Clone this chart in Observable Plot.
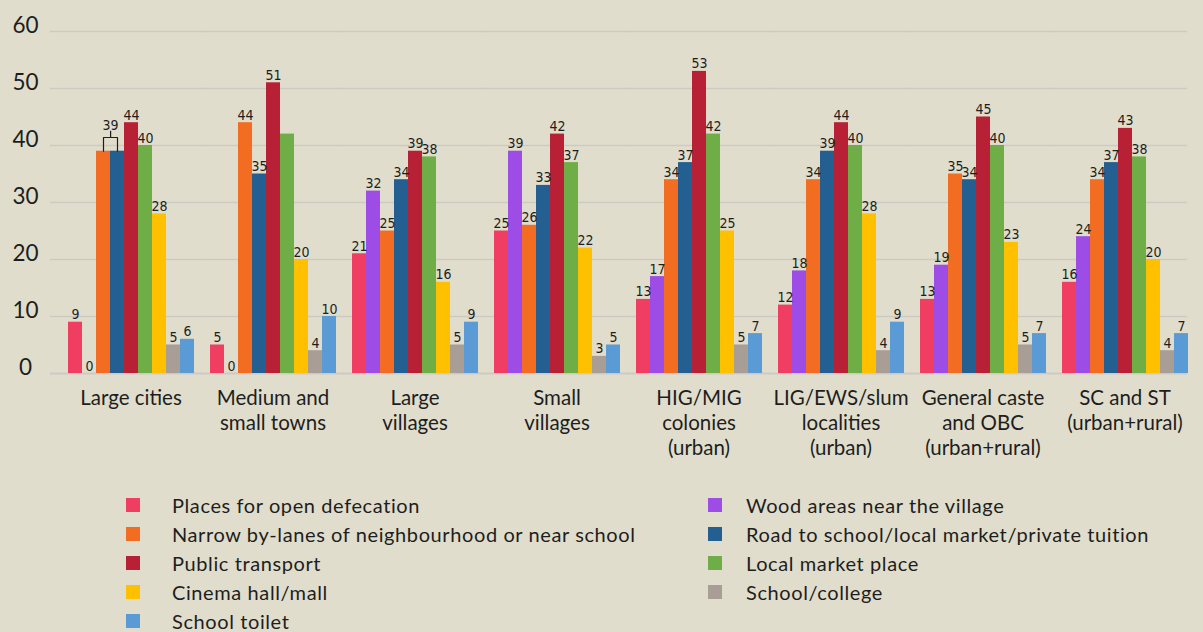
<!DOCTYPE html>
<html>
<head>
<meta charset="utf-8">
<script src="https://cdn.jsdelivr.net/npm/d3@7"></script>
<script src="https://cdn.jsdelivr.net/npm/@observablehq/plot@0.6"></script>
<style>
  html, body { margin: 0; padding: 0; background: #e0ddcc; }
  #chart { width: 1203px; height: 632px; overflow: hidden; position: relative; }
  #legend {
    display: grid;
    grid-template-columns: 582px 470px;
    grid-auto-rows: 29.2px;
    padding-left: 126px;
    margin-top: 10px;
    font-family: Lato, "Open Sans", sans-serif;
    font-size: 20px;
    letter-spacing: 0.6px;
    color: #1e1e1e;
  }
  .item { display: flex; align-items: center; }
  .sw { width: 14px; height: 14px; flex: none; }
  .col0 .sw { margin-right: 32px; }
  .col1 .sw { margin-right: 24px; }
</style>
</head>
<body>
<div id="chart"></div>
<script>
// ---- data ----
const groups = ["Large cities", "Medium and small towns", "Large villages", "Small villages",
  "HIG/MIG colonies (urban)", "LIG/EWS/slum localities (urban)",
  "General caste and OBC (urban+rural)", "SC and ST (urban+rural)"];
const groupLabels = ["Large cities", "Medium and\nsmall towns", "Large\nvillages", "Small\nvillages",
  "HIG/MIG\ncolonies\n(urban)", "LIG/EWS/slum\nlocalities\n(urban)",
  "General caste\nand OBC\n(urban+rural)", "SC and ST\n(urban+rural)"];
const series = ["Places for open defecation", "Wood areas near the village",
  "Narrow by-lanes of neighbourhood or near school", "Road to school/local market/private tuition",
  "Public transport", "Local market place", "Cinema hall/mall", "School/college", "School toilet"];
const colors = ["#f03e62", "#9d4de6", "#f26c22", "#245f91", "#b82035", "#6fad47", "#ffc000", "#a89e95", "#5b9bd5"];

const openDefecation  = [9, 5, 21, 25, 13, 12, 13, 16];
const woodAreas       = [0, 0, 32, 39, 17, 18, 19, 24];
const narrowLanes     = [39, 44, 25, 26, 34, 34, 35, 34];
const roadToSchool    = [39, 35, 34, 33, 37, 39, 34, 37];
const publicTransport = [44, 51, 39, 42, 53, 44, 45, 43];
const localMarket     = [40, 42, 38, 37, 42, 40, 40, 38];
const cinemaHall      = [28, 20, 16, 22, 25, 28, 23, 20];
const schoolCollege   = [5, 4, 5, 3, 5, 4, 5, 4];
const schoolToilet    = [6, 10, 9, 5, 7, 9, 7, 7];
const yTicks = [0, 10, 20, 30, 40, 50, 60];

// labels not printed in the reference (the 39/39 pair shares a bracketed label)
const hiddenLabels = [
  ["Medium and small towns", "Local market place"],
  ["Large cities", "Narrow by-lanes of neighbourhood or near school"],
  ["Large cities", "Road to school/local market/private tuition"]
];
const bracket = { group: "Large cities", from: series[2], to: series[3] };

// ---- build table ----
const valueArrays = [openDefecation, woodAreas, narrowLanes, roadToSchool, publicTransport,
  localMarket, cinemaHall, schoolCollege, schoolToilet];
const data = [];
groups.forEach((g, gi) => series.forEach((s, si) => data.push({ group: g, series: s, value: valueArrays[si][gi] })));
const labelData = data.filter(d => !hiddenLabels.some(([g, s]) => g === d.group && s === d.series));

const bv = data.find(d => d.group === bracket.group && d.series === bracket.from).value;
const bracketPts = [
  { fx: bracket.group, x: bracket.from, y: bv },
  { fx: bracket.group, x: bracket.from, y: bv + 2.4 },
  { fx: bracket.group, x: bracket.to, y: bv + 2.4 },
  { fx: bracket.group, x: bracket.to, y: bv }
];

const grid = [];
groups.forEach((g, gi) => yTicks.forEach(t => grid.push({ fx: g, y: t, gi })));
const last = groups.length - 1;
const gridStroke = "#cdcac3";
const numFont = "'Liberation Sans Narrow', 'DejaVu Sans Condensed', sans-serif";

const plot = Plot.plot({
  width: 1203,
  height: 480,
  marginLeft: 64,
  marginRight: 11,
  marginTop: 31,
  marginBottom: 107,
  style: { background: "transparent", fontFamily: "Lato, 'Open Sans', sans-serif" },
  fx: { domain: groups, paddingInner: 0.105, paddingOuter: 0, axis: null, label: null },
  x: { domain: series, padding: 0, axis: null, label: null },
  y: { domain: [0, 60], axis: null, label: null },
  color: { domain: series, range: colors },
  marks: [
    Plot.ruleY(grid.filter(d => d.gi === 0), { fx: "fx", y: "y", stroke: gridStroke, strokeWidth: d => d.y === 0 ? 2.2 : 1.6, insetLeft: -17, insetRight: -8 }),
    Plot.ruleY(grid.filter(d => d.gi > 0 && d.gi < last), { fx: "fx", y: "y", stroke: gridStroke, strokeWidth: d => d.y === 0 ? 2.2 : 1.6, insetLeft: -8, insetRight: -8 }),
    Plot.ruleY(grid.filter(d => d.gi === last), { fx: "fx", y: "y", stroke: gridStroke, strokeWidth: d => d.y === 0 ? 2.2 : 1.6, insetLeft: -8, insetRight: 1 }),
    Plot.barY(data, { fx: "group", x: "series", y: "value", fill: "series", inset: 0 }),
    Plot.text(labelData, { fx: "group", x: "series", y: "value", text: d => String(d.value),
      lineAnchor: "bottom", dy: -3, fontSize: 14, fill: "#1e1e1e", fontFamily: numFont }),
    Plot.line(bracketPts, { fx: "fx", x: "x", y: "y", stroke: "#1e1e1e", strokeWidth: 1.2 }),
    Plot.ruleX([{ fx: bracket.group, x: bracket.from, y: bv + 2.4 }], { fx: "fx", x: "x", y1: d => d.y, y2: d => d.y + 1.1,
      dx: 7.1, stroke: "#1e1e1e", strokeWidth: 1.2 }),
    Plot.text([{ fx: bracket.group, x: bracket.from, y: bv + 2.4, t: String(bv) }], { fx: "fx", x: "x", y: "y", text: "t",
      dx: 7.1, dy: -8, lineAnchor: "bottom", fontSize: 14, fill: "#1e1e1e", fontFamily: numFont }),
    Plot.text(yTicks.map(t => ({ fx: groups[0], y: t })), { fx: "fx", y: "y", text: d => String(d.y),
      frameAnchor: "left", dx: -42, dy: 1, textAnchor: "middle", lineAnchor: "bottom", fontSize: 22.5, fill: "#1e1e1e" }),
    Plot.text(groups.map((g, i) => ({ fx: g, t: groupLabels[i] })), { fx: "fx", text: "t",
      frameAnchor: "bottom", lineAnchor: "top", dy: 14, fontSize: 20.5, lineHeight: 1.22, fill: "#1e1e1e" })
  ]
});

const chart = document.getElementById("chart");
chart.appendChild(plot);

const legend = document.createElement("div");
legend.id = "legend";
series.forEach((s, i) => {
  const item = document.createElement("div");
  item.className = "item col" + (i % 2);
  const sw = document.createElement("span");
  sw.className = "sw";
  sw.style.background = colors[i];
  const lab = document.createElement("span");
  lab.textContent = s;
  item.appendChild(sw);
  item.appendChild(lab);
  legend.appendChild(item);
});
chart.appendChild(legend);
</script>
</body>
</html>
